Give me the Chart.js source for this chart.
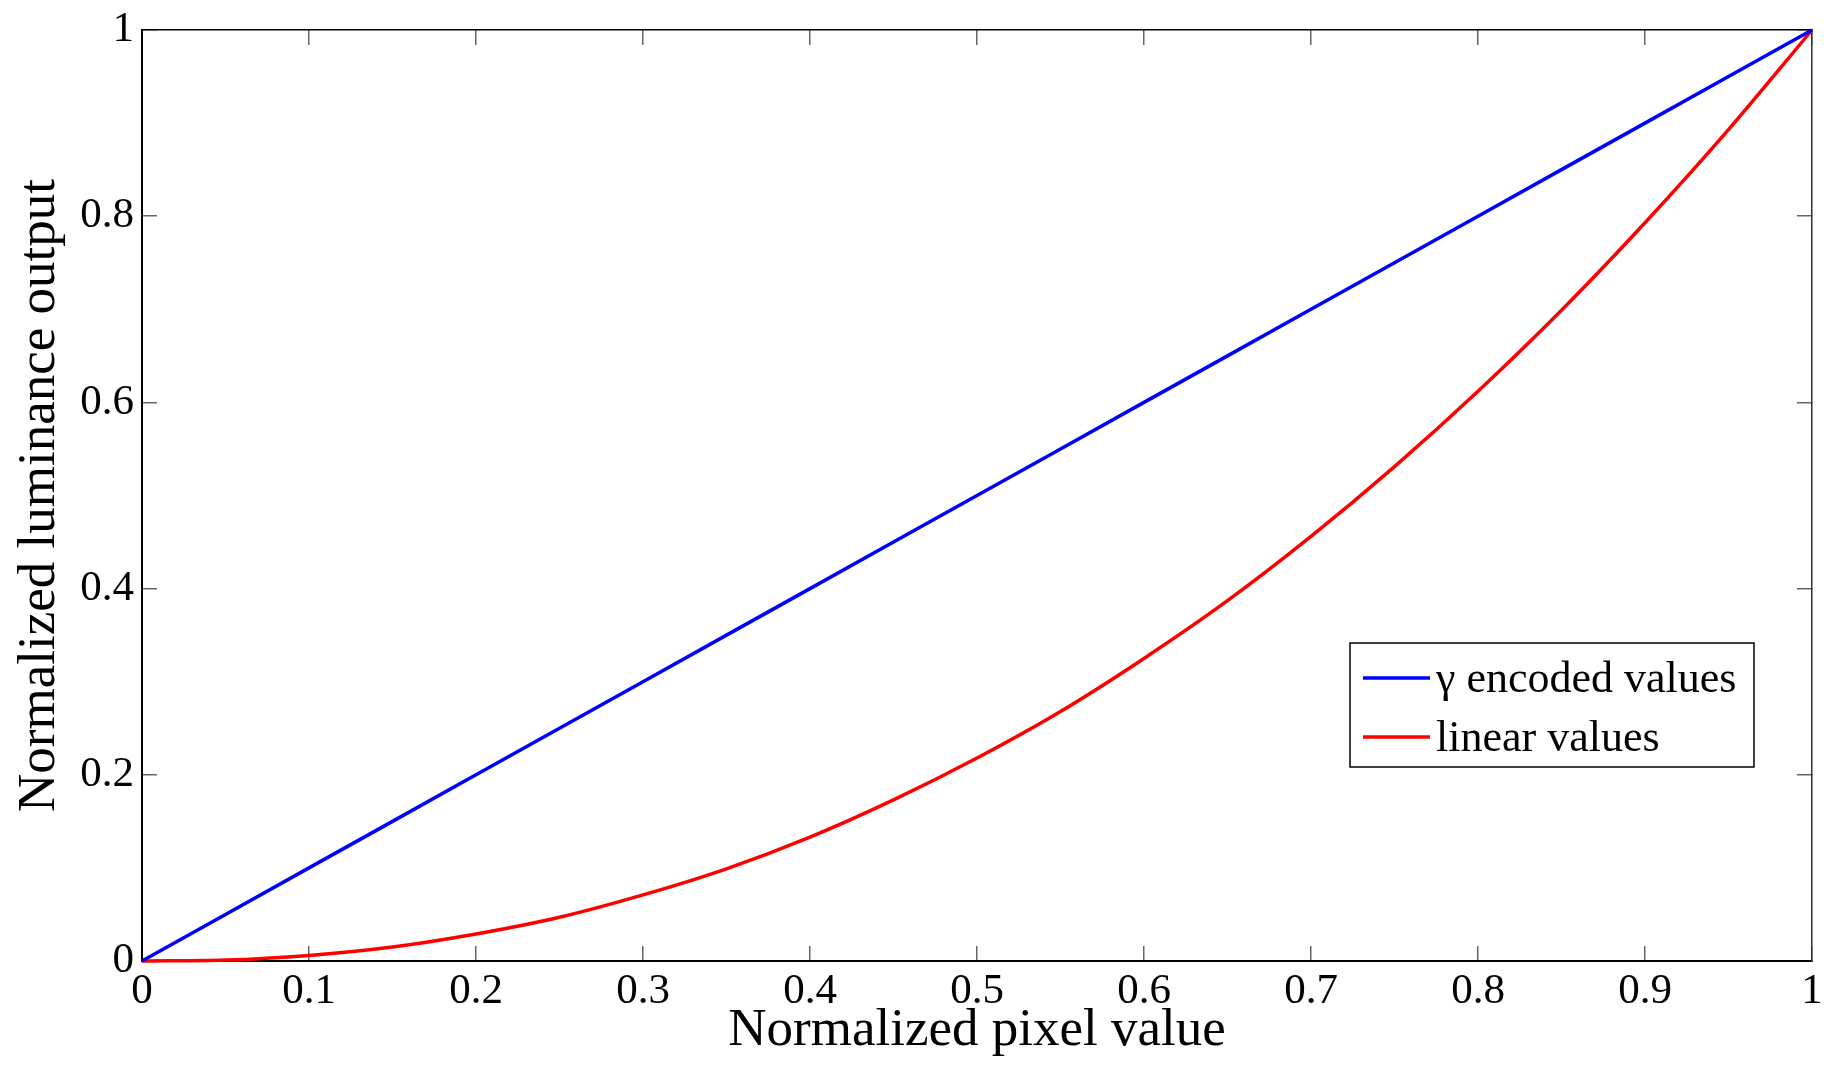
<!DOCTYPE html>
<html>
<head>
<meta charset="utf-8">
<title>Gamma encoding</title>
<script src="https://cdn.jsdelivr.net/npm/chart.js@4.4.1/dist/chart.umd.min.js"></script>
<style>
  html, body { margin: 0; padding: 0; background: #fff; }
  #wrap { width: 1824px; height: 1066px; position: relative; }
</style>
</head>
<body>
<div id="wrap"><canvas id="gammaChart"></canvas></div>
<script>
// values
const pixelValues = [0, 0.05, 0.1, 0.15, 0.2, 0.25, 0.3, 0.35, 0.4, 0.45, 0.5,
  0.55, 0.6, 0.65, 0.7, 0.75, 0.8, 0.85, 0.9, 0.95, 1];
const gammaEncoded = [0, 0.05, 0.1, 0.15, 0.2, 0.25, 0.3, 0.35, 0.4, 0.45, 0.5,
  0.55, 0.6, 0.65, 0.7, 0.75, 0.8, 0.85, 0.9, 0.95, 1];
const linearValues = [0, 0.001, 0.006, 0.015, 0.029, 0.047, 0.071, 0.099, 0.133, 0.173, 0.218,
  0.268, 0.325, 0.387, 0.456, 0.531, 0.612, 0.699, 0.793, 0.893, 1];
const seriesLabels = ['γ encoded values', 'linear values'];

const xTickValues = [0, 0.1, 0.2, 0.3, 0.4, 0.5, 0.6, 0.7, 0.8, 0.9, 1];
const xTickLabels = ['0', '0.1', '0.2', '0.3', '0.4', '0.5', '0.6', '0.7', '0.8', '0.9', '1'];
const yTickValues = [0, 0.2, 0.4, 0.6, 0.8, 1];
const yTickLabels = ['0', '0.2', '0.4', '0.6', '0.8', '1'];

const SERIF = '"Liberation Serif", "Times New Roman", serif';

function toPoints(xs, ys) {
  return xs.map((x, i) => ({ x: x, y: ys[i] }));
}

// legend box drawn inside the plot, like the matlab one
const boxLegend = {
  id: 'boxLegend',
  afterDraw(chart) {
    const { ctx, chartArea } = chart;
    const left = chartArea.right - 462;
    const top = chartArea.bottom - 318;
    const w = 404, h = 124;
    ctx.save();
    ctx.fillStyle = '#FFFFFF';
    ctx.fillRect(left, top, w, h);
    ctx.strokeStyle = '#000000';
    ctx.lineWidth = 1.5;
    ctx.strokeRect(left, top, w, h);
    ctx.font = '44px ' + SERIF;
    ctx.textBaseline = 'middle';
    ctx.textAlign = 'left';
    chart.data.datasets.forEach((ds, i) => {
      const y = top + 35 + i * 59;
      ctx.strokeStyle = ds.borderColor;
      ctx.lineWidth = 3.5;
      ctx.beginPath();
      ctx.moveTo(left + 13, y);
      ctx.lineTo(left + 80, y);
      ctx.stroke();
      ctx.fillStyle = '#000000';
      ctx.fillText(ds.label, left + 86, y + 2);
    });
    ctx.restore();
  }
};

const tickFont = { family: SERIF, size: 43 };
const titleFont = { family: SERIF, size: 53 };

// keep the plot box where matlab put it: no extra room for overhanging labels
function noOverhang(scale) {
  scale.paddingLeft = 0;
  scale.paddingRight = 0;
  scale.paddingTop = 0;
  scale.paddingBottom = 0;
}

const tickGrid = { drawOnChartArea: false, drawTicks: true, tickLength: -15, color: '#666666', lineWidth: 1.5 };

new Chart(document.getElementById('gammaChart'), {
  type: 'line',
  data: {
    datasets: [
      {
        label: seriesLabels[0],
        data: toPoints(pixelValues, gammaEncoded),
        borderColor: '#0000FF',
        borderWidth: 3.5,
        pointRadius: 0,
        fill: false,
        clip: false
      },
      {
        label: seriesLabels[1],
        data: toPoints(pixelValues, linearValues),
        borderColor: '#FF0000',
        borderWidth: 3.5,
        pointRadius: 0,
        fill: false,
        cubicInterpolationMode: 'monotone',
        clip: false
      }
    ]
  },
  options: {
    responsive: true,
    maintainAspectRatio: false,
    animation: false,
    layout: { padding: { top: 30, right: 12, left: 0, bottom: 0 } },
    plugins: {
      legend: { display: false },
      tooltip: { enabled: false }
    },
    scales: {
      x: {
        type: 'linear',
        position: 'bottom',
        min: 0,
        max: 1,
        afterBuildTicks: (scale) => { scale.ticks = xTickValues.map(v => ({ value: v })); },
        afterFit: (scale) => { scale.height = 105; noOverhang(scale); },
        grid: tickGrid,
        border: { display: true, color: '#000000', width: 2 },
        ticks: {
          color: '#000000',
          font: tickFont,
          padding: 20,
          maxRotation: 0,
          autoSkip: false,
          callback: (value, index) => xTickLabels[index]
        },
        title: {
          display: true,
          text: 'Normalized pixel value',
          color: '#000000',
          font: titleFont,
          padding: { top: 0, bottom: 3 }
        }
      },
      x2: {
        type: 'linear',
        position: 'top',
        min: 0,
        max: 1,
        afterBuildTicks: (scale) => { scale.ticks = xTickValues.map(v => ({ value: v })); },
        afterFit: (scale) => { scale.height = 0; noOverhang(scale); },
        grid: tickGrid,
        border: { display: true, color: '#000000', width: 1.5 },
        ticks: { display: false }
      },
      y: {
        type: 'linear',
        position: 'left',
        min: 0,
        max: 1,
        afterBuildTicks: (scale) => { scale.ticks = yTickValues.map(v => ({ value: v })); },
        afterFit: (scale) => { scale.width = 142; noOverhang(scale); },
        grid: tickGrid,
        border: { display: true, color: '#000000', width: 2 },
        ticks: {
          color: '#000000',
          font: tickFont,
          padding: 23,
          autoSkip: false,
          callback: (value, index) => yTickLabels[index]
        },
        title: {
          display: true,
          text: 'Normalized luminance output',
          color: '#000000',
          font: titleFont,
          padding: { top: 8, bottom: 0 }
        }
      },
      y2: {
        type: 'linear',
        position: 'right',
        min: 0,
        max: 1,
        afterBuildTicks: (scale) => { scale.ticks = yTickValues.map(v => ({ value: v })); },
        afterFit: (scale) => { scale.width = 0; noOverhang(scale); },
        grid: tickGrid,
        border: { display: true, color: '#333333', width: 1.5 },
        ticks: { display: false }
      }
    }
  },
  plugins: [boxLegend]
});
</script>
</body>
</html>
